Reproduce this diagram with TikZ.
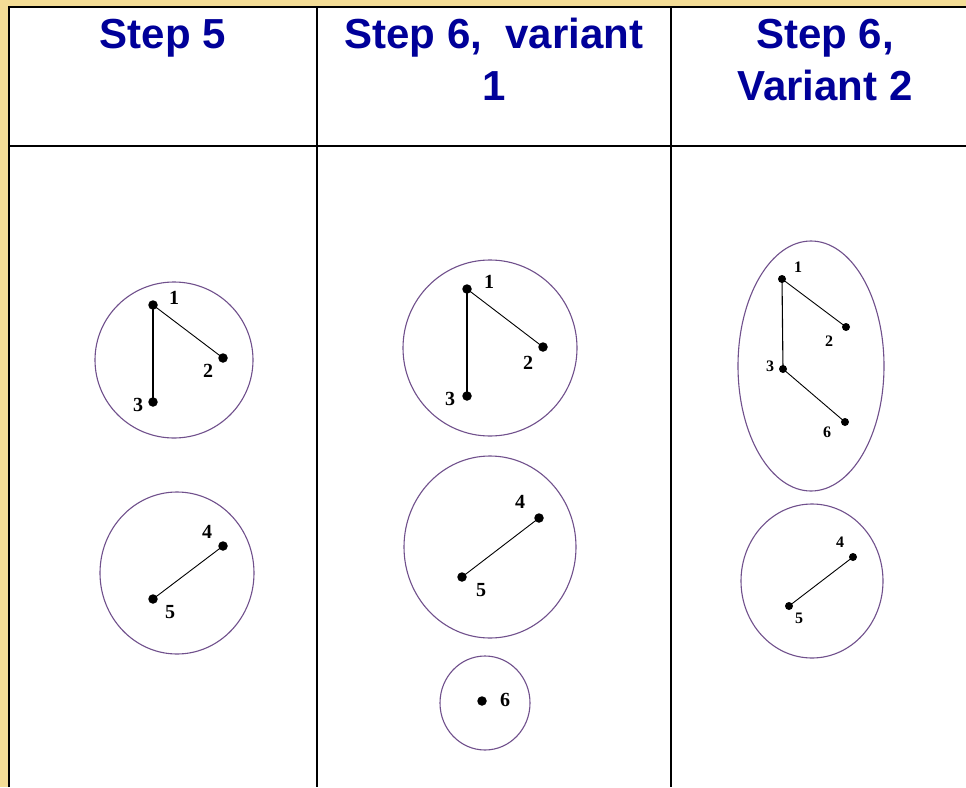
\documentclass[tikz,border=0pt]{standalone}
\usepackage{fontspec}
\setmainfont{Liberation Serif}
\newfontfamily\headfont{Liberation Sans}
\definecolor{bgyellow}{RGB}{244,221,150}
\definecolor{headblue}{RGB}{0,0,153}
\definecolor{clustercol}{RGB}{112,80,140}
\begin{document}
\begin{tikzpicture}[x=1pt,y=-1pt,
  head/.style={font=\headfont\bfseries\fontsize{42}{48}\selectfont, text=headblue, anchor=base, inner sep=0pt},
  gridline/.style={line width=2.6pt, black},
  cluster/.style={draw=clustercol, line width=1.1pt},
  dot/.style={circle, fill=black, inner sep=0pt, minimum size=9.5pt},
  sdot/.style={circle, fill=black, inner sep=0pt, minimum size=8pt},
  lab/.style={font=\bfseries\fontsize{20}{20}\selectfont, inner sep=0pt},
  slab/.style={font=\bfseries\fontsize{16}{16}\selectfont, inner sep=0pt},
  edge/.style={black, line width=0.9pt, shorten <=-1pt, shorten >=-1pt}]
\useasboundingbox (0,0) rectangle (966,787);
% background and table
\fill[bgyellow] (0,0) rectangle (966,787);
\fill[white] (9,7) rectangle (966,787);
\draw[gridline] (9,787) -- (9,7) -- (966,7);
\draw[gridline] (9,146) -- (966,146);
\draw[gridline] (317,7) -- (317,787);
\draw[gridline] (671,7) -- (671,787);
% headers
\node[head] (h1) at (163,48) {Step 5};
\node[head] (h2a) at (494,48) {Step 6,\ \ variant};
\node[head] (h2b) at (494,100) {1};
\node[head] (h3a) at (825,48) {Step 6,};
\node[head] (h3b) at (825,100) {Variant 2};
% ---- column 1
\coordinate (c1a) at (174,360);
\draw[cluster] (c1a) ellipse [x radius=79, y radius=78];
\coordinate (c1b) at (177,573);
\draw[cluster] (c1b) ellipse [x radius=77, y radius=81];
\node[dot] (a1) at (153,305) {};
\node[dot] (a2) at (223,358) {};
\node[dot] (a3) at (153,402) {};
\node[lab] (la1) at (174,298) {1};
\node[lab] (la2) at (208,371) {2};
\node[lab] (la3) at (138,405) {3};
\draw[edge, line width=1.3pt] (a1) -- (a3);
\draw[edge] (a1) -- (a2);
\node[dot] (a4) at (223,546) {};
\node[dot] (a5) at (153,599) {};
\node[lab] (la4) at (207,532) {4};
\node[lab] (la5) at (170,612) {5};
\draw[edge] (a4) -- (a5);
% ---- column 2
\coordinate (c2a) at (490,348);
\draw[cluster] (c2a) ellipse [x radius=87, y radius=88];
\coordinate (c2b) at (490,547);
\draw[cluster] (c2b) ellipse [x radius=86, y radius=91];
\coordinate (c2c) at (485,703);
\draw[cluster] (c2c) ellipse [x radius=45, y radius=47];
\node[dot] (b1) at (467,289) {};
\node[dot] (b2) at (543,347) {};
\node[dot] (b3) at (467,396) {};
\node[lab] (lb1) at (489,282) {1};
\node[lab] (lb2) at (528,363) {2};
\node[lab] (lb3) at (450,399) {3};
\draw[edge, line width=1.3pt] (b1) -- (b3);
\draw[edge] (b1) -- (b2);
\node[dot] (b4) at (539,518) {};
\node[dot] (b5) at (462,577) {};
\node[lab] (lb4) at (520,502) {4};
\node[lab] (lb5) at (481,590) {5};
\draw[edge] (b4) -- (b5);
\node[dot] (b6) at (482,701) {};
\node[lab] (lb6) at (505,700) {6};
% ---- column 3
\coordinate (c3a) at (811,366);
\draw[cluster] (c3a) ellipse [x radius=73, y radius=125];
\coordinate (c3b) at (812,581);
\draw[cluster] (c3b) ellipse [x radius=71, y radius=77];
\node[sdot] (d1) at (782,279) {};
\node[sdot] (d2) at (846,327) {};
\node[sdot] (d3) at (783,369) {};
\node[sdot] (d6) at (845,422) {};
\node[slab] (ld1) at (798,267) {1};
\node[slab] (ld2) at (829,341) {2};
\node[slab] (ld3) at (770,366) {3};
\node[slab] (ld6) at (827,432) {6};
\draw[edge, line width=1.1pt] (d1) -- (d3);
\draw[edge] (d1) -- (d2);
\draw[edge] (d3) -- (d6);
\node[sdot] (d4) at (853,557) {};
\node[sdot] (d5) at (789,606) {};
\node[slab] (ld4) at (840,542) {4};
\node[slab] (ld5) at (799,618) {5};
\draw[edge] (d4) -- (d5);
\end{tikzpicture}
\end{document}
